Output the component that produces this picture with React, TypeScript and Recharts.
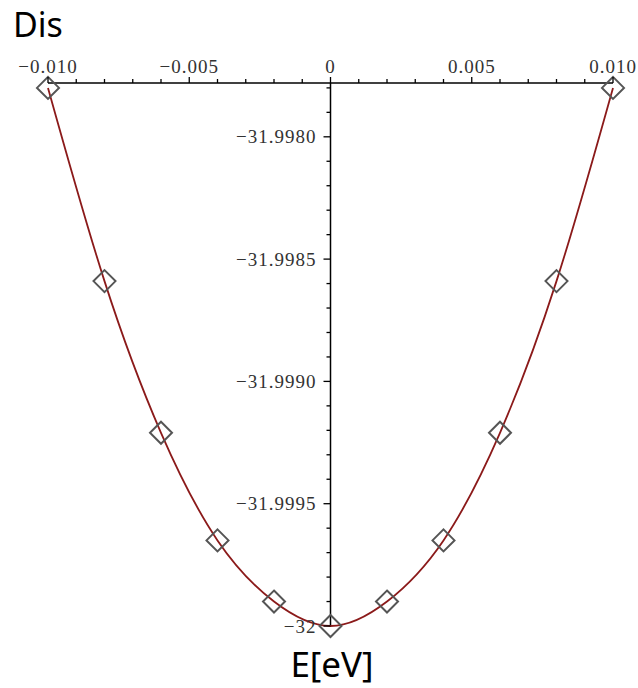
import React from "react";
import {
  ComposedChart,
  Line,
  Scatter,
  XAxis,
  YAxis,
  ReferenceLine,
  ReferenceDot,
} from "recharts";

// energy offsets and the computed "Dis" value at each
const energies = [-0.01, -0.008, -0.006, -0.004, -0.002, 0, 0.002, 0.004, 0.006, 0.008, 0.01];
const disValues = [
  -31.9978, -31.99859, -31.99921, -31.99965, -31.9999, -32.0,
  -31.9999, -31.99965, -31.99921, -31.99859, -31.9978,
];

// axis ticks: every minor step, labels only on the major ones
const xTicks = [
  -0.01, -0.009, -0.008, -0.007, -0.006, -0.005, -0.004, -0.003, -0.002, -0.001, 0,
  0.001, 0.002, 0.003, 0.004, 0.005, 0.006, 0.007, 0.008, 0.009, 0.01,
];
const xMajor = [-0.01, -0.005, 0, 0.005, 0.01];
const xLabels = ["\u22120.010", "\u22120.005", "0", "0.005", "0.010"];

const yTicks = [
  -32.0, -31.9999, -31.9998, -31.9997, -31.9996, -31.9995, -31.9994, -31.9993,
  -31.9992, -31.9991, -31.999, -31.9989, -31.9988, -31.9987, -31.9986, -31.9985,
  -31.9984, -31.9983, -31.9982, -31.9981, -31.998, -31.9979, -31.9978,
];
const yMajor = [-32.0, -31.9995, -31.999, -31.9985, -31.998];
const yLabels = ["\u221232", "\u221231.9995", "\u221231.9990", "\u221231.9985", "\u221231.9980"];

const data = energies.map((e, i) => ({ e, dis: disValues[i] }));

const W = 638;
const H = 688;
const tickFont = '"Liberation Serif", "Times New Roman", serif';
const titleFont = '"Noto Sans", "Open Sans", sans-serif';

const near = (a: number, b: number) => Math.abs(a - b) < 1e-9;

function XTick(props: any) {
  const { x, y, payload } = props;
  const idx = xMajor.findIndex((m) => near(m, payload.value));
  const major = idx >= 0;
  return (
    <g>
      <line x1={x} x2={x} y1={y} y2={y - (major ? 6 : 4)} stroke="#000" strokeWidth={1.3} />
      {major && (
        <text
          x={x}
          y={y - 10}
          textAnchor="middle"
          fontFamily={tickFont}
          fontSize={19}
          letterSpacing={1}
          fill="#333"
        >
          {xLabels[idx]}
        </text>
      )}
    </g>
  );
}

function yTickShape(value: number) {
  const idx = yMajor.findIndex((m) => near(m, value));
  const major = idx >= 0;
  return (props: any) => {
    const { cx, cy } = props;
    return (
      <g>
        <line x1={cx} x2={cx - (major ? 7 : 4)} y1={cy} y2={cy} stroke="#000" strokeWidth={1.3} />
        {major && (
          <text
            x={cx - 14}
            y={cy}
            dy="0.35em"
            textAnchor="end"
            fontFamily={tickFont}
            fontSize={19}
            letterSpacing={1}
            fill="#333"
          >
            {yLabels[idx]}
          </text>
        )}
      </g>
    );
  };
}

function Diamond(props: any) {
  const { cx, cy } = props;
  const r = 11;
  return (
    <polygon
      points={`${cx},${cy - r} ${cx + r},${cy} ${cx},${cy + r} ${cx - r},${cy}`}
      fill="none"
      stroke="#555"
      strokeWidth={2}
    />
  );
}

export default function App() {
  return (
    <div style={{ position: "absolute", left: 0, top: 0, width: W, height: H, background: "#fff" }}>
      <ComposedChart
        width={W}
        height={H}
        data={data}
        margin={{ top: 53, right: 25, bottom: 62, left: 48 }}
      >
        <XAxis
          dataKey="e"
          type="number"
          orientation="top"
          domain={[-0.01, 0.01]}
          ticks={xTicks}
          interval={0}
          height={30}
          tickSize={0}
          tickMargin={0}
          tickLine={false}
          axisLine={{ stroke: "#000", strokeWidth: 1.5 }}
          tick={<XTick />}
        />
        <YAxis dataKey="dis" type="number" domain={[-32, -31.99778]} hide />
        <ReferenceLine x={0} stroke="#000" strokeWidth={1.5} />
        {yTicks.map((v) => (
          <ReferenceDot key={v} x={0} y={v} r={0} shape={yTickShape(v)} ifOverflow="visible" />
        ))}
        <Scatter dataKey="dis" shape={<Diamond />} isAnimationActive={false} />
        <Line
          type="natural"
          dataKey="dis"
          stroke="#8b1a1a"
          strokeWidth={1.8}
          dot={false}
          activeDot={false}
          isAnimationActive={false}
        />
      </ComposedChart>
      <svg
        width={W}
        height={H}
        style={{ position: "absolute", left: 0, top: 0, pointerEvents: "none" }}
      >
        <text x={13} y={37} fontFamily={titleFont} fontSize={34} fill="#000">
          Dis
        </text>
        <text x={332} y={677} textAnchor="middle" fontFamily={titleFont} fontSize={35} fill="#000">
          E[eV]
        </text>
      </svg>
    </div>
  );
}
